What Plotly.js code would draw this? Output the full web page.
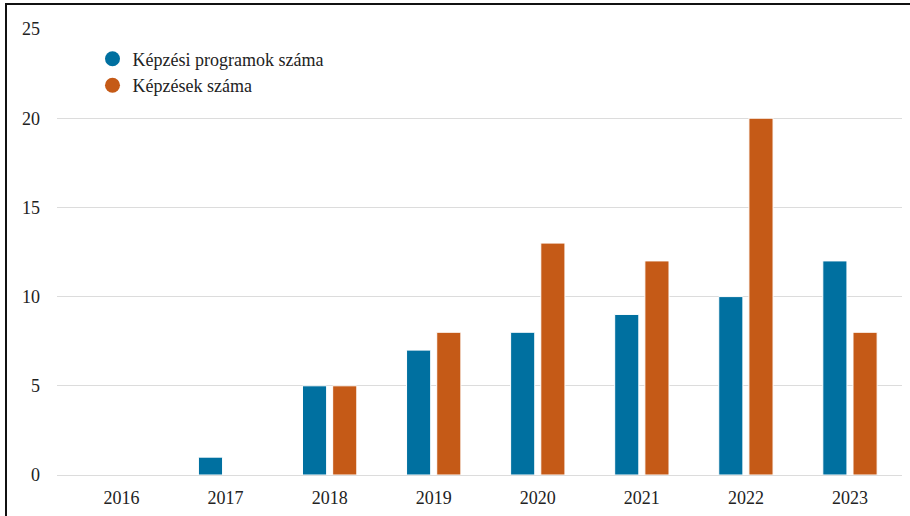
<!DOCTYPE html>
<html><head><meta charset="utf-8">
<script src="https://cdn.plot.ly/plotly-3.0.1.min.js"></script>
<style>
html,body{margin:0;padding:0;background:#fff;font-family:'Liberation Serif';}
#wrap{position:relative;width:910px;height:516px;overflow:hidden;}
#chart{position:absolute;left:0;top:0;width:910px;height:516px;}
#chart svg text{font-family:'Liberation Serif', serif !important;}
#frame{position:absolute;left:5px;top:3px;width:920px;height:600px;border-top:2px solid #111;border-left:2px solid #111;pointer-events:none;}
</style></head>
<body>
<div id="wrap"><div id="chart"></div><div id="frame"></div></div>
<script>
const years = ['2016','2017','2018','2019','2020','2021','2022','2023'];
const programs = [0, 1, 5, 7, 8, 9, 10, 12];
const trainings = [0, 0, 5, 8, 13, 12, 20, 8];
const seriesNames = ['Képzési programok száma', 'Képzések száma'];
const colors = ['#0070A0', '#C55A17'];

const FAMILY = 'Liberation Serif';

const traces = [
  {type:'bar', x:years, y:programs, name:seriesNames[0], marker:{color:colors[0], line:{color:'#ffffff', width:1}}, showlegend:false, hoverinfo:'x+y'},
  {type:'bar', x:years, y:trainings, name:seriesNames[1], marker:{color:colors[1], line:{color:'#ffffff', width:1}}, showlegend:false, hoverinfo:'x+y'},
  {type:'scatter', mode:'markers', x:[null], y:[null], name:seriesNames[0], marker:{color:colors[0], size:15, symbol:'circle'}, showlegend:true},
  {type:'scatter', mode:'markers', x:[null], y:[null], name:seriesNames[1], marker:{color:colors[1], size:15, symbol:'circle'}, showlegend:true}
];

const layout = {
  width:910, height:516,
  margin:{l:57, r:8, t:29, b:41},
  paper_bgcolor:'#fff', plot_bgcolor:'#fff',
  font: {family:FAMILY, size:18, color:'#222'},
  barmode:'group', bargap:0.42, bargroupgap:0.2,
  xaxis:{type:'category', range:[-0.62, 7.5], showgrid:false, zeroline:false, showline:false, ticks:'', ticklabelstandoff:10},
  yaxis:{range:[0,25], dtick:5, showgrid:true, gridcolor:'#dcdcdc', gridwidth:1, zeroline:true, zerolinecolor:'#dcdcdc', zerolinewidth:1, showline:false, ticks:'', ticklabelstandoff:16},
  legend:{x:0.042, y:0.974, xanchor:'left', yanchor:'top', bgcolor:'rgba(0,0,0,0)', tracegroupgap:0, itemwidth:30, font:{family:FAMILY, size:18, color:'#222'}},
  showlegend:true
};

Plotly.newPlot('chart', traces, layout, {displayModeBar:false, staticPlot:true});
</script>
</body></html>
